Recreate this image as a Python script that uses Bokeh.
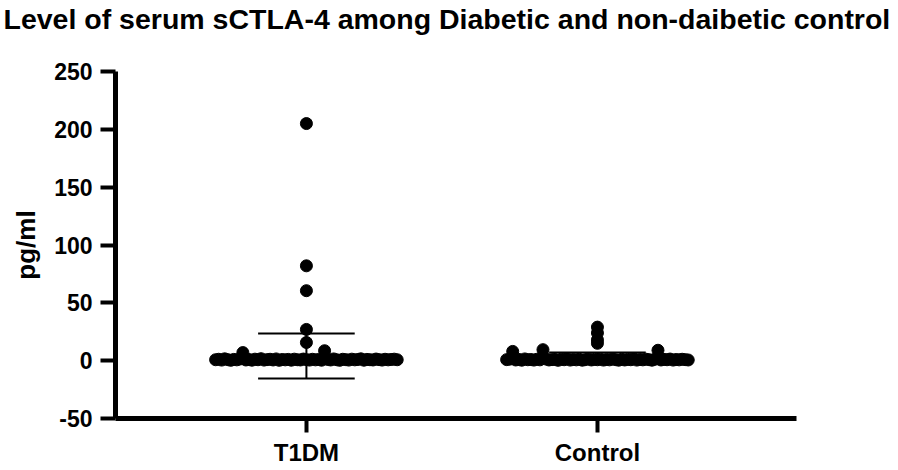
import numpy as np
from bokeh.plotting import figure
from bokeh.models import FixedTicker, Title
from bokeh.embed import file_html
from bokeh.resources import INLINE

# ---- data ----
categories = ["T1DM", "Control"]
category_pos = [1, 2]

t1dm_values = [205, 82, 60.5, 27, 15.7,
               0.8, 1.2, 0.5, 1.6, 0.9, 0.3, 1.1, 0.7, 1.4, 7.0,
               0.6, 1.0, 0.4, 1.3, 0.8, 1.7, 0.5, 0.9, 1.2, 0.6,
               1.5, 0.3, 1.0, 0.7, 1.1, 0.4, 1.3, 0.8, 0.6, 1.4,
               0.9, 0.5, 1.2, 0.7, 1.0, 0.4, 8.6, 1.1, 0.6, 1.5,
               0.8, 0.3, 1.2, 0.9, 0.5, 1.3, 0.7, 1.0, 1.6, 0.4,
               1.1, 0.8, 0.6, 1.4, 0.9, 0.5, 1.2, 0.7, 1.0, 1.3, 0.8]

control_values = [29, 24, 18, 15,
                  0.9, 1.3, 8.0, 0.6, 1.1, 0.4, 1.5, 0.8, 1.0, 0.5,
                  1.2, 0.7, 9.5, 1.4, 0.6, 0.9, 1.1, 0.3, 1.3, 0.8,
                  1.6, 0.5, 1.0, 0.7, 1.2, 0.4, 0.9, 1.5, 0.6, 1.1,
                  0.8, 1.3, 0.5, 1.0, 0.7, 1.4, 0.9, 0.4, 1.2, 0.6,
                  1.1, 0.8, 1.6, 0.5, 1.0, 0.7, 1.3, 0.9, 0.4, 1.2,
                  9.0, 0.6, 1.1, 0.8, 1.4, 0.5, 1.0, 0.7, 1.2, 0.9, 0.6]

group_means = [4.0, 2.1]
group_sds = [19.5, 5.0]

y_ticks = [-50, 0, 50, 100, 150, 200, 250]
y_tick_labels = ["-50", "0", "50", "100", "150", "200", "250"]
title_text = "Level of serum sCTLA-4 among Diabetic and non-daibetic control"
y_label = "pg/ml"

# ---- layout parameters ----
W, H = 898, 470
LEFT, RIGHT, TOP, BOTTOM = 115, 102, 71, 52
X_RANGE = (0.344, 2.684)
Y_RANGE = (-50, 250)
band_half = 0.312    # horizontal spread of the low-value band (x units)
band_limit = 12      # values below this are spread along the band
cap_half = 0.166
mean_half = 0.25

def swarm_x(vals, center):
    vals = np.asarray(vals, float)
    xs = np.full(len(vals), float(center))
    band = np.where(vals < band_limit)[0]
    if len(band) > 1:
        xs[band] = center + np.linspace(-band_half, band_half, len(band))
    return xs

FONT = "Liberation Sans"

p = figure(width=W, height=H, output_backend="svg", toolbar_location=None,
           x_range=X_RANGE, y_range=Y_RANGE,
           min_border_left=LEFT, min_border_right=RIGHT,
           min_border_top=TOP, min_border_bottom=BOTTOM)
p.background_fill_color = "white"
p.border_fill_color = "white"
p.outline_line_color = None
p.xgrid.visible = False
p.ygrid.visible = False

# spacer between the title and the plot area
spacer = Title(text=" ", text_font_size="10px", standoff=24, text_color="white")
p.add_layout(spacer, "above")

main_title = Title(text=title_text, text_font=FONT, text_font_size="28.5px",
                   text_font_style="bold", text_color="black", align="left",
                   offset=-112, standoff=0)
p.add_layout(main_title, "above")

for vals, pos in zip([t1dm_values, control_values], category_pos):
    xs = swarm_x(vals, pos)
    p.scatter(xs, vals, size=12, fill_color="black", line_color="black")

for pos, m, s in zip(category_pos, group_means, group_sds):
    # SD whisker
    p.segment(x0=[pos], y0=[m - s], x1=[pos], y1=[m + s], line_color="black", line_width=2)
    p.segment(x0=[pos - cap_half, pos - cap_half], y0=[m + s, m - s],
              x1=[pos + cap_half, pos + cap_half], y1=[m + s, m - s],
              line_color="black", line_width=2)
    # mean line
    p.segment(x0=[pos - mean_half], y0=[m], x1=[pos + mean_half], y1=[m],
              line_color="black", line_width=2)

# axes
p.xaxis.ticker = FixedTicker(ticks=category_pos)
p.xaxis.major_label_overrides = {pos: name for pos, name in zip(category_pos, categories)}
p.yaxis.ticker = FixedTicker(ticks=y_ticks)
p.yaxis.major_label_overrides = {t: lab for t, lab in zip(y_ticks, y_tick_labels)}
for ax in (p.xaxis, p.yaxis):
    ax.axis_line_width = 5
    ax.axis_line_color = "black"
    ax.major_tick_line_width = 4
    ax.major_tick_line_color = "black"
    ax.major_tick_in = 0
    ax.minor_tick_line_color = None
    ax.major_label_text_font = FONT
    ax.major_label_text_font_style = "bold"
    ax.major_label_text_color = "black"
p.xaxis.major_tick_out = 14
p.yaxis.major_tick_out = 15
p.xaxis.major_label_text_font_size = "24px"
p.yaxis.major_label_text_font_size = "23px"
p.xaxis.major_label_standoff = 6
p.yaxis.major_label_standoff = 8
p.yaxis.axis_label = y_label
p.yaxis.axis_label_text_font = FONT
p.yaxis.axis_label_text_font_size = "26px"
p.yaxis.axis_label_text_font_style = "bold"
p.yaxis.axis_label_text_color = "black"
p.yaxis.axis_label_standoff = 10

open("out.html", "w").write(file_html(p, INLINE))
